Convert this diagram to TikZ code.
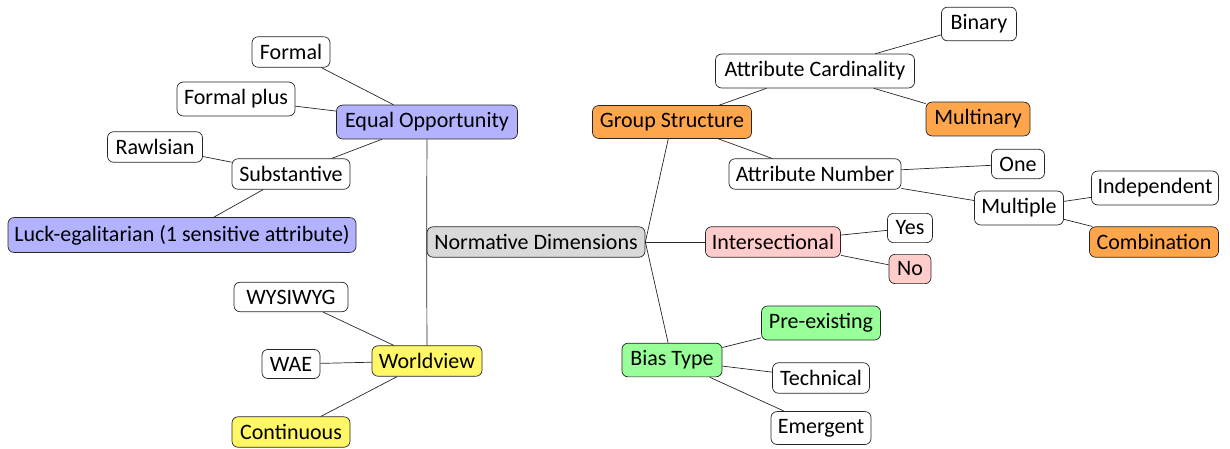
\documentclass[tikz,border=0pt]{standalone}
\usepackage{fontspec}
\setmainfont{Carlito}
\begin{document}
\begin{tikzpicture}[x=1pt,y=-1pt,
  nd/.style={draw=black!85, line width=0.7pt, rounded corners=6pt, inner xsep=6pt, inner ysep=7.5pt, font=\fontsize{22}{26}\selectfont, fill=white},
  blu/.style={nd, fill=blue!30},
  org/.style={nd, fill=orange!70},
  pnk/.style={nd, fill=red!20},
  grn/.style={nd, fill=green!40},
  ylw/.style={nd, fill=yellow!60},
  gry/.style={nd, fill=gray!30},
  link/.style={draw=black!85, line width=0.7pt}]
\useasboundingbox (0,0) rectangle (1230,448);
% nodes
\node[gry, minimum width=218pt] (norm) at (536,242) {Normative Dimensions};
\node[blu, minimum width=181pt] (eo) at (427,122) {Equal Opportunity};
\node[nd, minimum width=78pt] (formal) at (291,52) {Formal};
\node[nd, minimum width=118pt] (formalplus) at (236,99) {Formal plus};
\node[nd, minimum width=118pt] (subst) at (291,174) {Substantive};
\node[nd, minimum width=95pt] (rawls) at (155,147) {Rawlsian};
\node[blu, minimum width=348pt] (luck) at (182,235) {Luck-egalitarian (1 sensitive attribute)};
\node[ylw, minimum width=110pt] (world) at (427,361) {Worldview};
\node[nd, minimum width=114pt] (wysiwyg) at (291,297) {WYSIWYG};
\node[nd, minimum width=58pt] (wae) at (291,364) {WAE};
\node[ylw, minimum width=118pt] (cont) at (291,432) {Continuous};
\node[org, minimum width=159pt] (gs) at (672,122) {Group Structure};
\node[nd, minimum width=199pt] (ac) at (815,71) {Attribute Cardinality};
\node[nd, minimum width=75pt] (binary) at (979,24) {Binary};
\node[org, minimum width=104pt] (multinary) at (978,119) {Multinary};
\node[nd, minimum width=172pt] (an) at (815,174) {Attribute Number};
\node[nd, minimum width=53pt] (one) at (1018,164) {One};
\node[nd, minimum width=89pt] (multiple) at (1019,208) {Multiple};
\node[nd, minimum width=126pt] (indep) at (1155,188) {Independent};
\node[org, minimum width=129pt] (comb) at (1154,242) {Combination};
\node[pnk, minimum width=135pt] (inter) at (773,242) {Intersectional};
\node[nd, minimum width=45pt] (yes) at (910,228) {Yes};
\node[pnk, minimum width=42pt] (no) at (910,269) {No};
\node[grn, minimum width=100pt] (bias) at (672,360) {Bias Type};
\node[grn, minimum width=119pt] (pre) at (821,323) {Pre-existing};
\node[nd, minimum width=97pt] (tech) at (821,378) {Technical};
\node[nd, minimum width=100pt] (emerg) at (821,428) {Emergent};
% connectors
\draw[link] (norm.west) -- (eo);
\draw[link] (norm.west) -- (world);
\draw[link] (norm.east) -- (gs);
\draw[link] (norm.east) -- (inter);
\draw[link] (norm.east) -- (bias);
\draw[link] (eo) -- (formal);
\draw[link] (eo) -- (formalplus);
\draw[link] (eo) -- (subst);
\draw[link] (subst) -- (rawls);
\draw[link] (subst) -- (luck);
\draw[link] (world) -- (wysiwyg);
\draw[link] (world) -- (wae);
\draw[link] (world) -- (cont);
\draw[link] (gs) -- (ac);
\draw[link] (gs) -- (an);
\draw[link] (ac) -- (binary);
\draw[link] (ac) -- (multinary);
\draw[link] (an) -- (one);
\draw[link] (an) -- (multiple);
\draw[link] (multiple) -- (indep);
\draw[link] (multiple) -- (comb);
\draw[link] (inter) -- (yes);
\draw[link] (inter) -- (no);
\draw[link] (bias) -- (pre);
\draw[link] (bias) -- (tech);
\draw[link] (bias) -- (emerg);
\end{tikzpicture}
\end{document}
